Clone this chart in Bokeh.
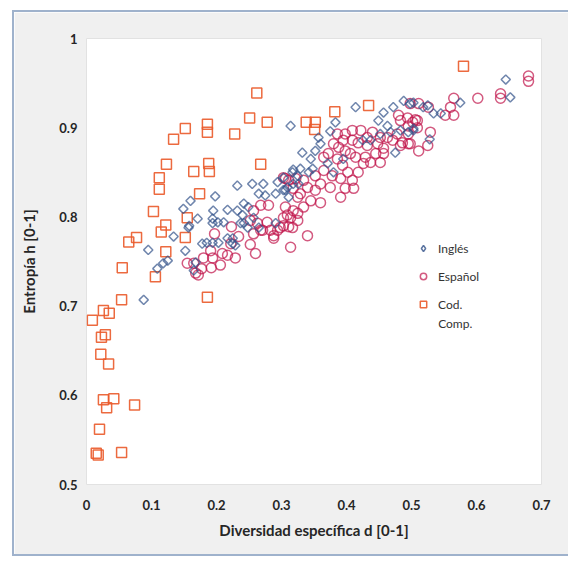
from bokeh.plotting import figure
from bokeh.models import Legend, LegendItem, Label, FixedTicker, ColumnDataSource
from bokeh.embed import file_html
from bokeh.resources import INLINE

# ---------------- data ----------------
ingles_x = [0.152, 0.158, 0.178, 0.185, 0.194, 0.203, 0.217, 0.225, 0.168, 0.165,
            0.194, 0.211, 0.242, 0.248, 0.265, 0.291, 0.225, 0.229, 0.232, 0.255,
            0.272, 0.294, 0.325, 0.318, 0.160, 0.149, 0.195, 0.217, 0.232, 0.240,
            0.249, 0.265, 0.275, 0.291, 0.303, 0.171, 0.194, 0.202, 0.157, 0.134,
            0.125, 0.109, 0.118, 0.237, 0.257, 0.242, 0.309, 0.311, 0.326, 0.198,
            0.095, 0.088, 0.414, 0.457, 0.314, 0.375, 0.357, 0.360, 0.352, 0.332,
            0.345, 0.371, 0.348, 0.342, 0.329, 0.317, 0.303, 0.318, 0.306, 0.380,
            0.395, 0.425, 0.437, 0.452, 0.468, 0.483, 0.503, 0.475, 0.463, 0.503,
            0.525, 0.449, 0.383, 0.472, 0.645, 0.652, 0.575, 0.545, 0.528, 0.488,
            0.498, 0.518, 0.503, 0.495, 0.534]
ingles_y = [0.762, 0.790, 0.770, 0.771, 0.771, 0.771, 0.776, 0.776, 0.749, 0.740,
            0.793, 0.794, 0.793, 0.788, 0.788, 0.793, 0.770, 0.768, 0.835, 0.837,
            0.837, 0.839, 0.846, 0.853, 0.818, 0.809, 0.807, 0.808, 0.807, 0.802,
            0.811, 0.826, 0.824, 0.826, 0.830, 0.798, 0.798, 0.794, 0.788, 0.778,
            0.751, 0.742, 0.748, 0.793, 0.799, 0.815, 0.833, 0.822, 0.837, 0.823,
            0.763, 0.707, 0.923, 0.917, 0.902, 0.896, 0.889, 0.882, 0.874, 0.872,
            0.865, 0.860, 0.854, 0.850, 0.854, 0.850, 0.844, 0.837, 0.830, 0.850,
            0.865, 0.886, 0.886, 0.893, 0.895, 0.897, 0.897, 0.872, 0.902, 0.928,
            0.925, 0.908, 0.906, 0.923, 0.954, 0.934, 0.928, 0.916, 0.887, 0.930,
            0.927, 0.923, 0.899, 0.895, 0.916]

espanol_x = [0.223, 0.197, 0.234, 0.252, 0.260, 0.257, 0.268, 0.283, 0.288, 0.298,
             0.311, 0.340, 0.314, 0.229, 0.217, 0.209, 0.206, 0.194, 0.180, 0.192,
             0.177, 0.172, 0.155, 0.168, 0.222, 0.191, 0.165, 0.257, 0.268, 0.280,
             0.252, 0.263, 0.278, 0.271, 0.294, 0.288, 0.317, 0.325, 0.303, 0.306,
             0.325, 0.318, 0.314, 0.303, 0.480, 0.494, 0.506, 0.495, 0.509, 0.495,
             0.478, 0.486, 0.495, 0.471, 0.463, 0.452, 0.440, 0.432, 0.422, 0.409,
             0.398, 0.386, 0.395, 0.409, 0.418, 0.432, 0.448, 0.457, 0.457, 0.445,
             0.429, 0.437, 0.452, 0.426, 0.414, 0.406, 0.398, 0.388, 0.380, 0.372,
             0.365, 0.386, 0.394, 0.402, 0.418, 0.409, 0.391, 0.378, 0.365, 0.352,
             0.360, 0.375, 0.398, 0.411, 0.391, 0.352, 0.340, 0.329, 0.318, 0.311,
             0.303, 0.322, 0.334, 0.345, 0.360, 0.334, 0.306, 0.309, 0.325, 0.525,
             0.511, 0.680, 0.680, 0.637, 0.637, 0.602, 0.565, 0.560, 0.565, 0.552,
             0.526, 0.498, 0.511, 0.509, 0.483, 0.529, 0.498, 0.483, 0.502]
espanol_y = [0.789, 0.781, 0.778, 0.769, 0.759, 0.781, 0.785, 0.785, 0.779, 0.788,
             0.789, 0.779, 0.766, 0.754, 0.757, 0.759, 0.746, 0.754, 0.754, 0.743,
             0.742, 0.735, 0.748, 0.737, 0.770, 0.762, 0.748, 0.807, 0.813, 0.813,
             0.796, 0.793, 0.794, 0.785, 0.785, 0.776, 0.788, 0.796, 0.790, 0.843,
             0.822, 0.807, 0.799, 0.799, 0.914, 0.911, 0.909, 0.902, 0.900, 0.893,
             0.893, 0.883, 0.882, 0.886, 0.889, 0.889, 0.895, 0.889, 0.897, 0.897,
             0.893, 0.893, 0.886, 0.886, 0.883, 0.880, 0.882, 0.877, 0.871, 0.871,
             0.867, 0.861, 0.861, 0.860, 0.867, 0.871, 0.874, 0.878, 0.882, 0.871,
             0.867, 0.865, 0.858, 0.850, 0.850, 0.841, 0.843, 0.846, 0.852, 0.846,
             0.837, 0.833, 0.832, 0.832, 0.822, 0.830, 0.833, 0.826, 0.832, 0.841,
             0.844, 0.843, 0.841, 0.818, 0.816, 0.811, 0.811, 0.802, 0.804, 0.880,
             0.874, 0.952, 0.958, 0.938, 0.933, 0.933, 0.933, 0.923, 0.914, 0.914,
             0.923, 0.927, 0.927, 0.908, 0.908, 0.895, 0.882, 0.880, 0.906]

codcomp_x = [0.580, 0.262, 0.251, 0.278, 0.382, 0.434, 0.338, 0.352, 0.351, 0.152,
             0.186, 0.186, 0.228, 0.134, 0.123, 0.188, 0.165, 0.189, 0.268, 0.112,
             0.112, 0.174, 0.103, 0.155, 0.122, 0.115, 0.152, 0.077, 0.065, 0.122,
             0.055, 0.106, 0.054, 0.186, 0.026, 0.035, 0.009, 0.029, 0.023, 0.022,
             0.034, 0.026, 0.042, 0.031, 0.074, 0.020, 0.015, 0.018, 0.054]
codcomp_y = [0.969, 0.939, 0.911, 0.906, 0.918, 0.925, 0.906, 0.906, 0.898, 0.899,
             0.904, 0.895, 0.893, 0.887, 0.859, 0.860, 0.851, 0.851, 0.859, 0.844,
             0.831, 0.826, 0.806, 0.799, 0.791, 0.783, 0.777, 0.777, 0.772, 0.761,
             0.743, 0.733, 0.707, 0.710, 0.695, 0.692, 0.684, 0.668, 0.665, 0.646,
             0.635, 0.595, 0.596, 0.586, 0.589, 0.562, 0.535, 0.533, 0.536]

x_ticks = [0, 0.1, 0.2, 0.3, 0.4, 0.5, 0.6, 0.7]
x_tick_labels = ["0", "0.1", "0.2", "0.3", "0.4", "0.5", "0.6", "0.7"]
y_ticks = [0.5, 0.6, 0.7, 0.8, 0.9, 1.0]
y_tick_labels = ["0.5", "0.6", "0.7", "0.8", "0.9", "1"]

series_names = ["Inglés", "Español", "Cod."]
series_name_2nd_line = "Comp."

# ---------------- figure ----------------
FONT = "Lato"
p = figure(width=556, height=546, x_range=(0, 0.7), y_range=(0.5, 1.0),
           output_backend="svg", toolbar_location=None,
           min_border_left=72, min_border_right=29, min_border_top=26,
           min_border_bottom=74)
p.margin = (10, 0, 0, 12)
p.styles = {"border-top": "2px solid #9fb2cc", "border-left": "2px solid #9fb2cc",
            "border-bottom": "2px solid #9fb2cc"}
p.border_fill_color = "#f0f0f0"
p.background_fill_color = "white"
p.outline_line_color = "#e2e2e2"
p.outline_line_width = 1
p.xgrid.grid_line_color = None
p.ygrid.grid_line_color = None

for ax in (p.xaxis[0], p.yaxis[0]):
    ax.axis_line_color = None
    ax.major_tick_line_color = None
    ax.minor_tick_line_color = None
    ax.major_tick_out = 0
    ax.major_tick_in = 0
    ax.major_label_text_font = FONT
    ax.major_label_text_font_style = "bold"
    ax.major_label_text_font_size = "13px"
    ax.major_label_text_color = "#262626"
    ax.axis_label_text_font = FONT
    ax.axis_label_text_font_style = "bold"
    ax.axis_label_text_font_size = "15px"
    ax.axis_label_text_color = "#262626"

p.xaxis.ticker = FixedTicker(ticks=x_ticks)
p.xaxis.major_label_overrides = dict(zip(x_ticks, x_tick_labels))
p.yaxis.ticker = FixedTicker(ticks=y_ticks)
p.yaxis.major_label_overrides = dict(zip(y_ticks, y_tick_labels))
p.xaxis.major_label_standoff = 15
p.yaxis.major_label_standoff = 9
p.xaxis.axis_label = "Diversidad específica d [0-1]"
p.yaxis.axis_label = "Entropía h [0-1]"
p.xaxis.axis_label_standoff = 8
p.yaxis.axis_label_standoff = 18

EN_COLOR, ES_COLOR, CC_COLOR = "#33538a", "#c0144a", "#ea5a2a"

src_en = ColumnDataSource(data=dict(x=ingles_x, y=ingles_y))

r_cod = p.scatter(codcomp_x, codcomp_y, marker="square", size=10,
                  fill_color=None, line_color=CC_COLOR, line_width=1.5, line_alpha=0.9)
r_es = p.scatter(espanol_x, espanol_y, marker="circle", size=10,
                 fill_color=None, line_color=ES_COLOR, line_width=1.5, line_alpha=0.7)
r_en = p.scatter("x", "y", source=src_en, marker="square", angle=0.785, size=6.5,
                 fill_color=None, line_color=EN_COLOR, line_width=1.5, line_alpha=0.7)
# legend key only: same source drawn as diamonds, hidden on the chart
r_en_key = p.scatter("x", "y", source=src_en, marker="diamond", size=11,
                     fill_color=None, line_color=EN_COLOR, line_width=1.5,
                     line_alpha=0.8, visible=False)

legend = Legend(items=[LegendItem(label=series_names[0], renderers=[r_en_key]),
                       LegendItem(label=series_names[1], renderers=[r_es]),
                       LegendItem(label=series_names[2], renderers=[r_cod])],
                location=(329, 172), orientation="vertical",
                border_line_color=None, background_fill_alpha=0,
                label_text_font=FONT, label_text_font_size="12px",
                label_text_color="#333333",
                glyph_width=16, glyph_height=16, label_height=16,
                spacing=12, padding=0, margin=0, label_standoff=7)
p.add_layout(legend, "center")

p.add_layout(Label(x=0.541, y=0.681, text=series_name_2nd_line, text_font=FONT,
                   text_font_size="12px", text_color="#333333",
                   text_baseline="middle", text_align="left"))

open("out.html", "w").write(file_html(p, INLINE))
